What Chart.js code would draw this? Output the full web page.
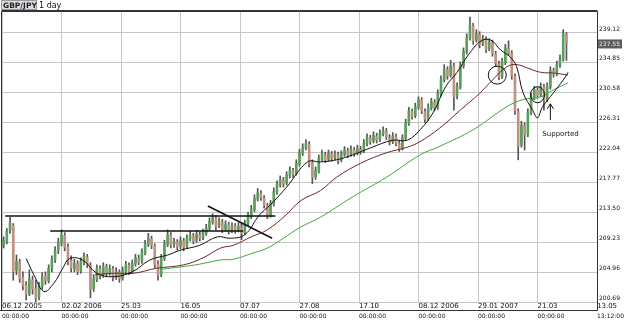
<!DOCTYPE html>
<html>
<head>
<meta charset="utf-8">
<script src="https://cdn.jsdelivr.net/npm/chart.js@4.4.1/dist/chart.umd.min.js"></script>
<style>
  html, body { margin: 0; padding: 0; background: #fff; }
  canvas { display: block; }
</style>
</head>
<body>
<canvas id="chart" width="625" height="322"></canvas>
<script>
// GBP/JPY daily candles, one candle per two trading days
const opens = [208.8,209.4,210.9,211.6,205.2,206.3,204.2,203.1,201.9,203.8,
  202.6,201.4,202.9,204.4,203.7,205.4,206.7,208.1,209.1,210.2,
  208.6,206.6,205.4,206.1,205.1,206.4,207.1,205.9,202.6,203.9,
  205.4,204.6,205.7,204.9,205.4,204.3,204.9,204.1,205.1,205.9,
  205.1,206.1,206.9,206.5,207.7,208.9,209.7,208.7,206.1,204.6,
  206.9,208.9,210.2,208.9,209.2,208.7,209.4,208.6,209.7,210.1,
  209.5,210.3,209.9,210.5,211.2,212.1,212.7,211.6,212.1,211.1,
  211.7,210.9,211.5,211.0,211.4,210.6,211.9,212.9,213.9,215.4,
  216.2,215.5,214.4,213.1,214.7,216.4,217.4,218.1,217.7,218.7,
  219.4,219.1,220.4,221.9,222.7,223.2,220.6,218.6,219.4,221.1,
  221.7,221.1,221.8,221.3,221.7,221.0,221.8,222.3,221.8,222.4,
  222.0,222.5,222.3,223.3,224.1,223.7,224.4,223.9,224.7,225.1,
  224.2,223.6,224.3,223.3,222.7,224.1,226.2,227.9,227.3,228.5,
  229.5,227.9,226.9,228.4,229.2,228.5,230.4,232.4,233.9,233.1,
  234.4,230.1,231.4,234.4,236.4,238.4,240.1,238.1,238.9,237.6,
  238.2,236.9,237.7,236.1,234.7,232.9,234.9,236.9,236.2,232.9,
  227.9,223.1,225.9,224.6,227.7,229.9,230.9,230.3,231.4,229.6,
  231.4,233.7,233.3,234.5,235.4,238.9];
const highs = [210.0,211.2,212.8,211.9,207.4,206.8,205.0,203.6,205.3,204.4,
  203.8,203.5,204.9,205.0,206.0,207.3,208.6,209.8,211.0,210.6,
  209.0,207.3,206.8,206.6,207.0,207.7,207.5,206.3,204.6,206.0,
  205.9,206.3,206.1,206.0,205.8,205.6,205.3,205.7,206.5,206.3,
  206.7,207.5,207.4,208.3,209.5,210.5,210.1,209.0,206.6,207.5,
  209.5,211.0,210.6,209.8,209.6,210.0,209.8,210.3,210.8,210.5,
  210.9,210.7,211.1,211.8,212.7,213.3,213.0,212.7,212.5,212.3,
  212.1,212.0,211.9,212.0,211.8,212.4,213.5,214.5,216.0,216.9,
  216.6,215.9,214.8,215.2,217.0,218.0,218.7,218.5,219.3,220.0,
  219.8,221.0,222.5,223.3,223.9,223.6,221.0,220.0,221.7,222.4,
  222.1,222.4,222.2,222.3,222.1,222.3,222.9,222.7,223.0,222.8,
  223.1,222.9,223.9,224.7,224.5,225.0,224.8,225.3,225.7,225.5,
  224.6,224.9,224.7,223.7,224.6,226.8,228.5,228.3,229.1,230.0,
  229.9,228.3,229.0,229.8,229.6,231.0,233.0,234.6,234.3,235.2,
  234.8,232.0,235.0,237.0,239.0,241.4,240.5,239.6,239.3,238.8,
  238.6,238.3,238.1,236.5,235.1,235.5,237.5,238.0,236.6,233.3,
  228.3,226.5,226.3,228.3,230.5,231.5,231.3,232.0,231.8,232.0,
  234.3,234.1,235.1,236.0,239.6,239.2];
const lows = [208.4,209.0,210.5,203.8,204.6,203.5,202.4,201.0,201.6,201.8,
  200.5,201.0,202.5,203.2,203.4,205.0,206.3,207.6,208.7,208.0,
  206.0,205.0,205.0,204.6,204.8,206.0,205.6,201.3,202.2,203.6,
  204.0,204.2,204.3,204.5,203.7,203.9,203.5,203.8,204.8,204.6,
  204.8,205.8,206.0,206.2,207.4,208.6,208.3,205.6,203.8,204.3,
  206.6,208.6,208.4,208.5,208.1,208.3,208.0,208.3,209.4,209.0,
  209.2,209.4,209.6,210.2,210.9,211.8,211.0,211.3,210.6,210.8,
  210.4,210.6,210.5,210.7,209.6,210.3,211.6,212.6,213.6,215.1,
  215.2,214.1,212.6,212.8,214.4,216.1,217.1,217.1,217.4,218.4,
  218.5,218.8,220.1,221.6,222.4,220.0,217.6,218.2,219.1,220.8,
  220.6,220.8,220.8,221.0,220.4,220.7,221.5,221.3,221.5,221.5,
  221.7,221.8,222.0,223.0,223.2,223.4,223.4,223.6,224.4,223.9,
  223.1,223.3,223.0,222.2,222.4,223.8,225.9,226.8,227.0,228.2,
  227.6,226.3,226.6,228.1,228.0,228.2,230.1,232.1,232.5,232.8,
  228.1,229.7,231.1,234.1,236.1,238.1,237.5,237.8,237.0,237.3,
  236.3,236.6,235.8,234.3,232.4,232.6,234.6,235.9,232.5,227.5,
  221.0,222.8,222.4,224.3,227.4,229.6,229.8,230.0,228.1,229.3,
  231.1,232.8,233.0,234.2,235.1,235.2];
const closes = [209.5,210.8,212.0,205.0,206.5,204.0,203.0,201.8,204.0,202.5,
  201.2,203.0,204.3,203.8,205.5,206.8,208.0,209.2,210.3,208.5,
  206.5,205.5,206.2,205.0,206.5,207.2,206.0,202.5,204.0,205.5,
  204.5,205.8,204.8,205.5,204.2,205.0,204.0,205.2,206.0,205.0,
  206.2,207.0,206.4,207.8,209.0,209.8,208.8,206.0,204.5,207.0,
  209.0,210.3,208.8,209.3,208.6,209.5,208.5,209.8,210.2,209.4,
  210.4,209.8,210.6,211.3,212.2,212.8,211.5,212.2,211.0,211.8,
  210.8,211.6,210.9,211.5,210.5,212.0,213.0,214.0,215.5,216.3,
  215.6,214.5,213.0,214.8,216.5,217.5,218.2,217.6,218.8,219.5,
  219.0,220.5,222.0,222.8,223.3,220.5,218.5,219.5,221.2,221.8,
  221.0,221.9,221.2,221.8,220.9,221.9,222.4,221.7,222.5,221.9,
  222.6,222.2,223.4,224.2,223.6,224.5,223.8,224.8,225.2,224.3,
  223.5,224.4,223.4,222.6,224.2,226.3,228.0,227.2,228.6,229.6,
  228.0,226.8,228.5,229.3,228.4,230.5,232.5,234.0,233.0,234.5,
  230.0,231.5,234.5,236.5,238.5,240.2,238.0,239.0,237.5,238.3,
  236.8,237.8,236.2,234.8,232.8,235.0,237.0,236.3,233.0,228.0,
  223.0,226.0,224.5,227.8,230.0,231.0,230.2,231.5,229.5,231.5,
  233.8,233.2,234.6,235.5,239.0,237.55];

// moving averages as [trading day, price]
const maFast = [[15,206.9],[20,204.5],[26,202.2],[32,203.3],[38,205.6],[42,206.9],[50,206.7],
  [59,204.8],[69,204.3],[81,205.0],[92,206.7],[103,207.4],[111,208.1],[123,208.8],[134,210.0],
  [142,209.8],[151,210.3],[160,213.1],[167,214.6],[177,217.1],[190,220.7],[198,220.7],[208,221.0],
  [218,221.7],[229,222.7],[243,223.8],[252,223.8],[260,225.3],[268,227.7],[276,231.5],[283,233.5],
  [290,236.0],[298,238.0],[304,238.1],[310,236.7],[316,235.7],[320,234.3],[324,230.6],[330,228.1],
  [333,227.0],[336,228.5],[343,230.6],[349,232.4],[352,233.5]];
const maMid = [[58,204.6],[70,204.8],[82,204.8],[96,205.5],[113,206.0],[125,207.0],[136,208.4],
  [144,208.8],[155,210.0],[165,211.0],[176,213.0],[186,215.2],[198,216.6],[208,218.5],[223,220.5],
  [239,222.0],[252,222.8],[260,223.6],[272,225.5],[285,228.1],[297,230.5],[305,232.4],[314,234.3],
  [320,234.6],[327,234.1],[335,233.5],[343,233.4],[352,233.1]];
const maSlow = [[100,205.4],[111,205.7],[123,206.1],[136,206.7],[144,206.8],[155,207.6],[165,208.4],
  [175,209.8],[185,211.3],[198,212.8],[218,215.7],[239,218.5],[260,221.7],[272,222.9],[293,225.3],
  [314,228.6],[324,229.6],[335,230.0],[343,231.0],[352,232.0]];

// drawn annotations: [day, price]
const resistanceHigh = [[2,212.97],[170,212.97]];
const resistanceLow = [[30,210.83],[150,210.83]];
const trendLine = [[128,214.4],[168,209.8]];
const circleMarks = [[308,233.1],[333,230.3]];
const arrowMark = [[341,226.7],[341,229.0]];
const noteMark = [336,224.7];

const yTicks = [200.69,204.96,209.23,213.50,217.77,222.04,226.31,230.58,234.85,239.12];
const yMin = 200.69, yMax = 242.26;
const xTickDays = [0,37,74,111,148,185,222,259,296,333,370];
const xDates = ['06.12 2005','02.02 2006','25.03','16.05','07.07','27.08','17.10','08.12 2006','29.01 2007','21.03','13.05'];
const xTimes = ['00:00:00','00:00:00','00:00:00','00:00:00','00:00:00','00:00:00','00:00:00','00:00:00','00:00:00','00:00:00','13:12:00'];
const lastPrice = 237.55;

const UP = '#5c9e5c';
const DOWN = '#bf9282';
const GRID = '#c6c6c6';
const FONT = "'DejaVu Sans', sans-serif";

const barDay = (i) => i * 2 + 1;
const wicks = lows.map((l, i) => ({ x: barDay(i), y: [l, highs[i]] }));
const bodies = opens.map((o, i) => ({ x: barDay(i), y: [o, closes[i]] }));
const bodyColors = opens.map((o, i) => (closes[i] >= o ? UP : DOWN));
const pts = (arr) => arr.map(([x, y]) => ({ x, y }));

function lineSet(data, color, tension, width) {
  return {
    type: 'line', data: pts(data), borderColor: color, borderWidth: width || 1,
    pointRadius: 0, tension: tension, fill: false, order: 0,
  };
}

const decor = {
  id: 'decor',
  beforeDraw(chart) {
    const ctx = chart.ctx;
    ctx.save();
    ctx.fillStyle = '#fff';
    ctx.fillRect(0, 0, chart.width, chart.height);
    ctx.restore();
  },
  afterDatasetsDraw(chart) {
    const { ctx, scales: { x, y } } = chart;
    ctx.save();
    ctx.strokeStyle = '#111';
    ctx.lineWidth = 1;
    // circles round the two crossings
    const radii = [[9, 9], [7, 8]];
    circleMarks.forEach(([d, p], i) => {
      ctx.beginPath();
      ctx.ellipse(x.getPixelForValue(d), y.getPixelForValue(p), radii[i][0], radii[i][1], 0, 0, Math.PI * 2);
      ctx.stroke();
    });
    // arrow
    const ax = x.getPixelForValue(arrowMark[0][0]);
    const ay0 = y.getPixelForValue(arrowMark[0][1]);
    const ay1 = y.getPixelForValue(arrowMark[1][1]);
    ctx.beginPath();
    ctx.moveTo(ax, ay0); ctx.lineTo(ax, ay1);
    ctx.moveTo(ax - 3, ay1 + 5); ctx.lineTo(ax, ay1); ctx.lineTo(ax + 3, ay1 + 5);
    ctx.stroke();
    ctx.fillStyle = '#111';
    ctx.font = '7px ' + FONT;
    ctx.textBaseline = 'middle';
    ctx.fillText('Supported', x.getPixelForValue(noteMark[0]), y.getPixelForValue(noteMark[1]));
    ctx.restore();
  },
  afterDraw(chart) {
    const { ctx, chartArea: a, scales: { x, y } } = chart;
    ctx.save();
    // frame
    ctx.strokeStyle = '#333';
    ctx.lineWidth = 1;
    ctx.beginPath();
    ctx.moveTo(1.5, a.bottom + 8.5);
    ctx.lineTo(1.5, a.top + 0.5);
    ctx.lineTo(a.right + 0.5, a.top + 0.5);
    ctx.lineTo(a.right + 0.5, a.bottom + 8.5);
    ctx.lineTo(0, a.bottom + 8.5);
    ctx.stroke();
    ctx.beginPath();
    ctx.moveTo(1.5, a.top - 0.5);
    ctx.lineTo(a.right + 0.5, a.top - 0.5);
    ctx.stroke();
    // date row inside the frame, time row under it
    ctx.fillStyle = '#111';
    ctx.textAlign = 'left';
    ctx.textBaseline = 'top';
    xTickDays.forEach((d, i) => {
      const px = x.getPixelForValue(d);
      ctx.font = '7px ' + FONT;
      ctx.fillText(xDates[i], px, a.bottom + 1);
      ctx.font = '6px ' + FONT;
      ctx.fillText(xTimes[i], px, a.bottom + 11);
    });
    // last price tag
    const py = y.getPixelForValue(lastPrice);
    ctx.fillStyle = '#5c5c5c';
    ctx.fillRect(a.right + 1, py - 4.5, 24, 9);
    ctx.fillStyle = '#eee';
    ctx.font = '6px ' + FONT;
    ctx.textBaseline = 'middle';
    ctx.fillText(lastPrice.toFixed(2), a.right + 2, py);
    // title
    ctx.fillStyle = '#dedede';
    ctx.fillRect(1, 0, 36, 10);
    ctx.strokeStyle = '#9a9a9a';
    ctx.strokeRect(1.5, 0.5, 35, 9);
    ctx.fillStyle = '#1a1a2a';
    ctx.textBaseline = 'alphabetic';
    ctx.font = 'bold 7.5px ' + FONT;
    ctx.fillText('GBP/JPY', 3, 8);
    ctx.font = '8px ' + FONT;
    ctx.fillStyle = '#111';
    ctx.fillText('1 day', 39, 8);
    ctx.restore();
  },
};

new Chart(document.getElementById('chart'), {
  type: 'bar',
  data: {
    datasets: [
      lineSet(maFast, '#111', 0.4),
      lineSet(maMid, '#6e2a2a', 0.4),
      lineSet(maSlow, '#3fa83f', 0.4),
      lineSet(resistanceHigh, '#111', 0, 1.5),
      lineSet(resistanceLow, '#111', 0, 1.5),
      lineSet(trendLine, '#111', 0, 1.5),
      {
        type: 'bar', data: bodies, backgroundColor: bodyColors,
        barThickness: 2, grouped: false, order: 1,
      },
      {
        type: 'bar', data: wicks, backgroundColor: '#555',
        barThickness: 1, grouped: false, order: 2,
      },
    ],
  },
  options: {
    responsive: false,
    animation: false,
    layout: { padding: { left: 2, top: 11, right: 0, bottom: 0 } },
    plugins: { legend: { display: false }, tooltip: { enabled: false } },
    scales: {
      x: {
        type: 'linear', min: 0, max: 370, offset: false,
        afterBuildTicks: (s) => { s.ticks = xTickDays.map((v) => ({ value: v })); },
        afterFit: (s) => { s.height = 20; s.paddingLeft = 0; s.paddingRight = 0; },
        grid: { color: GRID, drawTicks: false, offset: false },
        border: { display: false },
        ticks: { display: false },
      },
      y: {
        position: 'right', min: yMin, max: yMax,
        afterBuildTicks: (s) => { s.ticks = yTicks.map((v) => ({ value: v })); },
        afterFit: (s) => { s.width = 28; },
        grid: { color: GRID, drawTicks: false },
        border: { display: false },
        ticks: {
          padding: 2, labelOffset: -4, color: '#111',
          font: { family: FONT, size: 6 },
          callback: (v) => v.toFixed(2),
        },
      },
    },
  },
  plugins: [decor],
});
</script>
</body>
</html>
